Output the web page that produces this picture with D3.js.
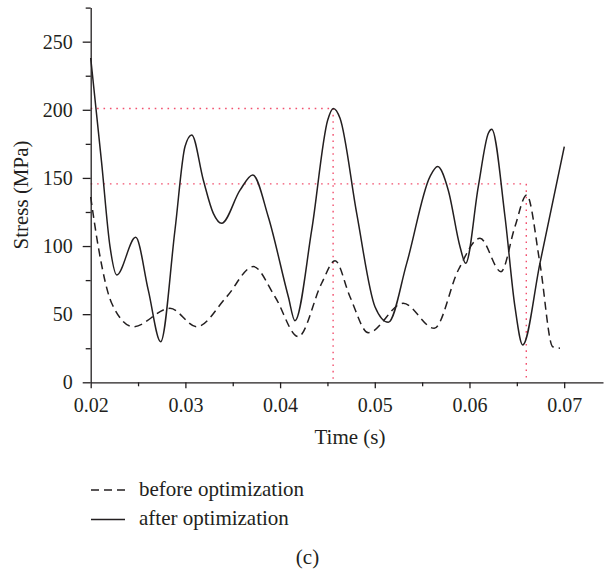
<!DOCTYPE html>
<html>
<head>
<meta charset="utf-8">
<script src="https://cdn.jsdelivr.net/npm/d3@7"></script>
<style>
  html, body { margin: 0; padding: 0; background: #fff; }
  svg { display: block; }
  text { font-family: "Liberation Serif", "DejaVu Serif", serif; fill: #231f20; }
</style>
</head>
<body>
<svg id="chart" width="604" height="573"></svg>
<script>
// Stress history, before optimization (dashed)
const beforeTime = [0.0200, 0.0208, 0.02222, 0.0245, 0.02837, 0.0312, 0.03436, 0.03717, 0.03946, 0.04192, 0.04439, 0.0458, 0.04738, 0.04932, 0.0530, 0.05628, 0.05882, 0.06111, 0.06333, 0.0648, 0.06604, 0.06744, 0.06879, 0.06956];
const beforeStress = [136, 99.5, 58, 40.8, 54.3, 40.8, 62.8, 84.9, 62.8, 33.5, 72.7, 89.3, 62.8, 36.4, 58, 39.6, 82.4, 105.7, 81.2, 114.2, 137.5, 87.3, 26.1, 25];

// Stress history, after optimization (solid)
const afterTime = [0.0200, 0.02116, 0.02204, 0.02275, 0.02475, 0.02608, 0.02739, 0.0289, 0.02996, 0.03067, 0.03189, 0.03295, 0.03383, 0.03577, 0.03711, 0.03875, 0.04087, 0.04157, 0.04334, 0.04503, 0.04562, 0.04633, 0.04809, 0.05002, 0.05143, 0.05337, 0.05583, 0.05664, 0.05776, 0.0590, 0.0596, 0.06093, 0.06199, 0.06235, 0.06375, 0.0648, 0.06562, 0.06744, 0.07001];
const afterStress = [238, 160.7, 99.5, 78.8, 106.4, 67.7, 29.8, 111.8, 173, 181.5, 148.5, 124, 116.7, 141, 152.2, 121.5, 62.8, 45.2, 111.8, 192.5, 201, 193.8, 124, 55.5, 44, 87.3, 151, 158.3, 141, 99.5, 87.3, 143.6, 182.8, 185.7, 121.5, 55.5, 27.4, 87.3, 172.9];

// Dotted guide lines: stress levels and the times they run to
const guideStress = [201, 145.6];
const guideTime = [0.0456, 0.0660];

// Axis ticks
const xMajorTicks = [0.02, 0.03, 0.04, 0.05, 0.06, 0.07];
const xMinorTicks = [0.025, 0.035, 0.045, 0.055, 0.065];
const yMajorTicks = [0, 50, 100, 150, 200, 250];
const yMinorTicks = [25, 75, 125, 175, 225, 275];

const legendLabels = ["before optimization", "after optimization"];

const svg = d3.select("#chart");
const x = d3.scaleLinear().domain([0.02, 0.0741]).range([90.7, 603]);
const y = d3.scaleLinear().domain([0, 275]).range([382.3, 7.6]);

const ink = "#231f20";
const guideColor = "#f2506e";

// Guides
const guides = svg.append("g")
  .attr("fill", "none")
  .attr("stroke", guideColor)
  .attr("stroke-width", 1.4)
  .attr("stroke-dasharray", "1.6,4.8");
guideStress.forEach((s, i) => {
  guides.append("line")
    .attr("x1", x(0.02)).attr("x2", x(guideTime[i]))
    .attr("y1", y(s)).attr("y2", y(s));
  guides.append("line")
    .attr("x1", x(guideTime[i])).attr("x2", x(guideTime[i]))
    .attr("y1", y(s)).attr("y2", y(0));
});

// Series
const line = d3.line()
  .x(d => x(d[0]))
  .y(d => y(d[1]))
  .curve(d3.curveMonotoneX);

svg.append("path")
  .datum(beforeTime.map((t, i) => [t, beforeStress[i]]))
  .attr("d", line)
  .attr("fill", "none")
  .attr("stroke", ink)
  .attr("stroke-width", 1.5)
  .attr("stroke-dasharray", "8,5");

svg.append("path")
  .datum(afterTime.map((t, i) => [t, afterStress[i]]))
  .attr("d", line)
  .attr("fill", "none")
  .attr("stroke", ink)
  .attr("stroke-width", 1.5);

// X axis
const xAxis = svg.append("g").attr("transform", `translate(0,${y(0)})`);
xAxis.append("g")
  .call(d3.axisBottom(x).tickValues(xMinorTicks).tickSize(4).tickFormat(""))
  .call(g => g.select(".domain").remove());
xAxis.append("g")
  .call(d3.axisBottom(x).tickValues(xMajorTicks).tickSize(6).tickSizeOuter(0).tickPadding(10)
    .tickFormat(d3.format(".2f")))
  .call(g => g.selectAll("text").attr("font-size", 20).attr("font-family", "Liberation Serif").attr("fill", ink));

// Y axis
const yAxis = svg.append("g").attr("transform", `translate(${x(0.02)},0)`);
yAxis.append("g")
  .call(d3.axisLeft(y).tickValues(yMinorTicks).tickSize(5).tickFormat(""))
  .call(g => g.select(".domain").remove());
yAxis.append("g")
  .call(d3.axisLeft(y).tickValues(yMajorTicks).tickSize(8).tickSizeOuter(0).tickPadding(10)
    .tickFormat(d3.format("d")))
  .call(g => g.selectAll("text").attr("font-size", 20).attr("font-family", "Liberation Serif").attr("fill", ink));

svg.selectAll(".domain, .tick line").attr("stroke", ink).attr("stroke-width", 1.3);

// Axis titles
svg.append("text")
  .attr("x", 350).attr("y", 444)
  .attr("text-anchor", "middle")
  .attr("font-size", 21)
  .text("Time (s)");

svg.append("text")
  .attr("transform", `translate(28,195) rotate(-90)`)
  .attr("text-anchor", "middle")
  .attr("font-size", 21)
  .text("Stress (MPa)");

// Legend
const legend = svg.append("g");
[["8,5", 490, 496], [null, 519.5, 525]].forEach(([dash, ly, ty], i) => {
  legend.append("line")
    .attr("x1", 91).attr("x2", 125)
    .attr("y1", ly).attr("y2", ly)
    .attr("stroke", ink).attr("stroke-width", 1.3)
    .attr("stroke-dasharray", dash);
  legend.append("text")
    .attr("x", 139).attr("y", ty)
    .attr("font-size", 21)
    .text(legendLabels[i]);
});

svg.append("text")
  .attr("x", 307.5).attr("y", 564)
  .attr("text-anchor", "middle")
  .attr("font-size", 21)
  .text("(c)");
</script>
</body>
</html>
